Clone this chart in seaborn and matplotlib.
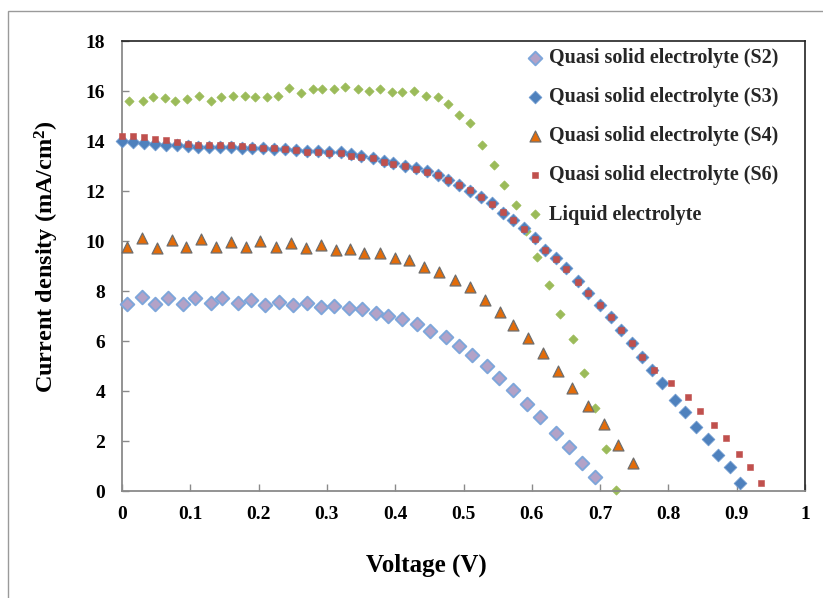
import matplotlib
matplotlib.use("Agg")
import matplotlib.pyplot as plt
import seaborn as sns
from matplotlib.patches import Rectangle

# ---------------- data ----------------
s2_v = [0.007, 0.029, 0.049, 0.068, 0.089, 0.107, 0.130, 0.147, 0.170, 0.189,
        0.210, 0.230, 0.251, 0.271, 0.292, 0.311, 0.332, 0.352, 0.372, 0.390,
        0.410, 0.432, 0.451, 0.474, 0.494, 0.513, 0.534, 0.552, 0.573, 0.593,
        0.612, 0.636, 0.654, 0.674, 0.693]
s2_j = [7.48, 7.77, 7.48, 7.71, 7.48, 7.71, 7.51, 7.71, 7.51, 7.64,
        7.44, 7.57, 7.44, 7.51, 7.37, 7.42, 7.31, 7.27, 7.13, 7.00,
        6.87, 6.68, 6.41, 6.15, 5.81, 5.44, 5.01, 4.51, 4.04, 3.50,
        2.97, 2.33, 1.76, 1.13, 0.55]

s3_v = [0.000, 0.016, 0.032, 0.048, 0.064, 0.080, 0.096, 0.111, 0.127, 0.143,
        0.159, 0.175, 0.191, 0.207, 0.223, 0.239, 0.255, 0.271, 0.287, 0.303,
        0.320, 0.335, 0.350, 0.367, 0.383, 0.397, 0.414, 0.430, 0.446, 0.462,
        0.477, 0.494, 0.509, 0.526, 0.541, 0.558, 0.572, 0.588, 0.604, 0.620,
        0.636, 0.650, 0.667, 0.682, 0.700, 0.716, 0.731, 0.746, 0.761, 0.776,
        0.790, 0.810, 0.825, 0.841, 0.858, 0.872, 0.890, 0.905]
s3_j = [14.00, 13.97, 13.92, 13.88, 13.85, 13.84, 13.80, 13.78, 13.77, 13.77,
        13.77, 13.74, 13.73, 13.71, 13.68, 13.67, 13.64, 13.62, 13.61, 13.58,
        13.56, 13.48, 13.40, 13.31, 13.21, 13.11, 13.01, 12.91, 12.80, 12.64,
        12.44, 12.24, 12.01, 11.77, 11.51, 11.13, 10.84, 10.51, 10.11, 9.64,
        9.31, 8.92, 8.40, 7.93, 7.45, 6.98, 6.45, 5.92, 5.37, 4.86,
        4.31, 3.64, 3.17, 2.57, 2.07, 1.44, 0.97, 0.31]

s4_v = [0.007, 0.029, 0.051, 0.073, 0.094, 0.116, 0.137, 0.159, 0.181, 0.202,
        0.225, 0.248, 0.269, 0.291, 0.313, 0.334, 0.355, 0.378, 0.400, 0.420,
        0.442, 0.464, 0.488, 0.509, 0.531, 0.553, 0.573, 0.595, 0.617, 0.638,
        0.659, 0.682, 0.706, 0.726, 0.748]
s4_j = [9.77, 10.11, 9.71, 10.04, 9.77, 10.07, 9.77, 9.97, 9.75, 10.00,
        9.77, 9.91, 9.71, 9.84, 9.64, 9.67, 9.51, 9.51, 9.31, 9.24,
        8.97, 8.77, 8.46, 8.15, 7.65, 7.18, 6.66, 6.13, 5.51, 4.80,
        4.14, 3.40, 2.67, 1.84, 1.11]

s6_v = [0.000, 0.016, 0.032, 0.048, 0.064, 0.080, 0.096, 0.111, 0.127, 0.143,
        0.159, 0.175, 0.191, 0.207, 0.223, 0.239, 0.255, 0.271, 0.287, 0.303,
        0.320, 0.335, 0.350, 0.367, 0.383, 0.397, 0.414, 0.430, 0.446, 0.462,
        0.477, 0.494, 0.509, 0.526, 0.541, 0.558, 0.572, 0.588, 0.604, 0.620,
        0.636, 0.650, 0.667, 0.682, 0.700, 0.716, 0.731, 0.746, 0.761, 0.779,
        0.804, 0.828, 0.846, 0.867, 0.884, 0.903, 0.920, 0.935]
s6_j = [14.22, 14.22, 14.16, 14.10, 14.06, 13.97, 13.90, 13.86, 13.84, 13.84,
        13.84, 13.80, 13.77, 13.74, 13.71, 13.68, 13.64, 13.57, 13.57, 13.51,
        13.51, 13.42, 13.37, 13.31, 13.18, 13.08, 13.00, 12.90, 12.77, 12.64,
        12.44, 12.26, 12.03, 11.77, 11.50, 11.17, 10.84, 10.50, 10.10, 9.66,
        9.30, 8.87, 8.37, 7.91, 7.44, 6.97, 6.44, 5.91, 5.35, 4.84,
        4.33, 3.77, 3.20, 2.64, 2.11, 1.47, 0.95, 0.33]

liq_v = [0.010, 0.031, 0.046, 0.063, 0.078, 0.095, 0.113, 0.130, 0.145, 0.162,
         0.180, 0.195, 0.212, 0.229, 0.245, 0.262, 0.279, 0.293, 0.310, 0.327,
         0.345, 0.362, 0.378, 0.395, 0.410, 0.427, 0.445, 0.462, 0.477, 0.494,
         0.509, 0.527, 0.544, 0.560, 0.577, 0.592, 0.608, 0.625, 0.642, 0.660,
         0.677, 0.693, 0.709, 0.724]
liq_j = [15.60, 15.60, 15.75, 15.74, 15.60, 15.67, 15.81, 15.60, 15.75, 15.81,
         15.81, 15.75, 15.75, 15.81, 16.14, 15.94, 16.08, 16.08, 16.08, 16.15,
         16.07, 16.01, 16.09, 15.95, 15.95, 16.01, 15.81, 15.75, 15.48, 15.06,
         14.74, 13.84, 13.06, 12.24, 11.44, 10.42, 9.37, 8.24, 7.08, 6.07,
         4.71, 3.31, 1.67, 0.04]

labels = ["Quasi solid electrolyte (S2)", "Quasi solid electrolyte (S3)",
          "Quasi solid electrolyte (S4)", "Quasi solid electrolyte (S6)",
          "Liquid electrolyte"]
x_ticks = [0, 0.1, 0.2, 0.3, 0.4, 0.5, 0.6, 0.7, 0.8, 0.9, 1.0]
x_tick_labels = ["0", "0.1", "0.2", "0.3", "0.4", "0.5", "0.6", "0.7", "0.8", "0.9", "1"]
y_ticks = [0, 2, 4, 6, 8, 10, 12, 14, 16, 18]

# ---------------- style ----------------
sns.set_theme(style="white")
plt.rcParams['font.family'] = ['Liberation Serif', 'DejaVu Serif']
plt.rcParams['font.weight'] = 'bold'
plt.rcParams['mathtext.fontset'] = 'custom'
plt.rcParams['mathtext.rm'] = 'Liberation Serif:bold'
plt.rcParams['mathtext.bf'] = 'Liberation Serif:bold'
plt.rcParams['mathtext.it'] = 'Liberation Serif:bold'

W, H = 823, 598
fig = plt.figure(figsize=(W / 100, H / 100), dpi=100)
fig.patch.set_facecolor("white")
AX_L, AX_R, AX_T, AX_B = 122, 805, 41, 491
ax = fig.add_axes([AX_L / W, 1 - AX_B / H, (AX_R - AX_L) / W, (AX_B - AX_T) / H])

# outer chart frame
fig.patches.append(Rectangle((8 / W, -0.2), 1.5, 1.2 - 11 / H, transform=fig.transFigure,
                             fill=False, edgecolor="#9a9a9a", linewidth=1.0, zorder=-5))

common = dict(ax=ax, clip_on=False, legend=False)
sns.scatterplot(x=liq_v, y=liq_j, marker="D", s=22, color="#9BBB59",
                edgecolor="#9BBB59", linewidth=0.5, zorder=2, **common)
sns.scatterplot(x=s2_v, y=s2_j, marker="D", s=48, color="#B3A2C7",
                edgecolor="#7EA6DA", linewidth=1.4, zorder=3, **common)
sns.scatterplot(x=s3_v, y=s3_j, marker="D", s=42, color="#4F81BD",
                edgecolor="#6F9AD0", linewidth=0.6, zorder=4, **common)
sns.scatterplot(x=s4_v, y=s4_j, marker="^", s=62, color="#E36C09",
                edgecolor="#6E6E6E", linewidth=0.9, zorder=5, **common)
sns.scatterplot(x=s6_v, y=s6_j, marker="s", s=18, color="#C0504D",
                edgecolor="#C0504D", linewidth=0.4, zorder=6, **common)

colls = ax.collections  # liq, s2, s3, s4, s6
order = [1, 2, 3, 4, 0]
handles = [colls[i] for i in order]

ax.set_xlim(0, 1)
ax.set_ylim(0, 18)
ax.set_xticks(x_ticks)
ax.set_xticklabels(x_tick_labels)
ax.set_yticks(y_ticks)
ax.set_yticklabels([str(v) for v in y_ticks])
ax.tick_params(axis="both", which="both", bottom=True, left=True, top=False, right=False,
               direction="in", length=5, width=1, color="#8a8a8a", labelsize=14,
               labelcolor="black")
ax.tick_params(axis="x", pad=11)
ax.tick_params(axis="y", pad=12)
for lab in ax.get_xticklabels() + ax.get_yticklabels():
    lab.set_fontweight("bold")

for side in ["left", "bottom"]:
    ax.spines[side].set_color("#8a8a8a")
    ax.spines[side].set_linewidth(1.3)
for side in ["top", "right"]:
    ax.spines[side].set_color("#222222")
    ax.spines[side].set_linewidth(1.2)

axw, axh = AX_R - AX_L, AX_B - AX_T
ax.set_xlabel("Voltage (V)", fontsize=18, fontweight="bold", color="black")
ax.xaxis.set_label_coords((426 - AX_L) / axw, (AX_B - 554) / axh)
ax.set_ylabel(r"Current density (mA/cm$^{2}$)", fontsize=17.5, fontweight="bold",
              color="black")
ax.yaxis.set_label_coords((61 - AX_L) / axw, (AX_B - 257) / axh)

leg = ax.legend(handles, labels, loc="upper left",
                bbox_to_anchor=(520 / W, 1 - 41 / H), bbox_transform=fig.transFigure,
                frameon=False,
                prop={"family": "Liberation Serif", "weight": "bold", "size": 14.5},
                handlelength=0.8, handletextpad=0.3, labelspacing=0.95,
                borderpad=0.35, borderaxespad=0, scatterpoints=1)

fig.savefig("out.png", dpi=100, facecolor="white")
